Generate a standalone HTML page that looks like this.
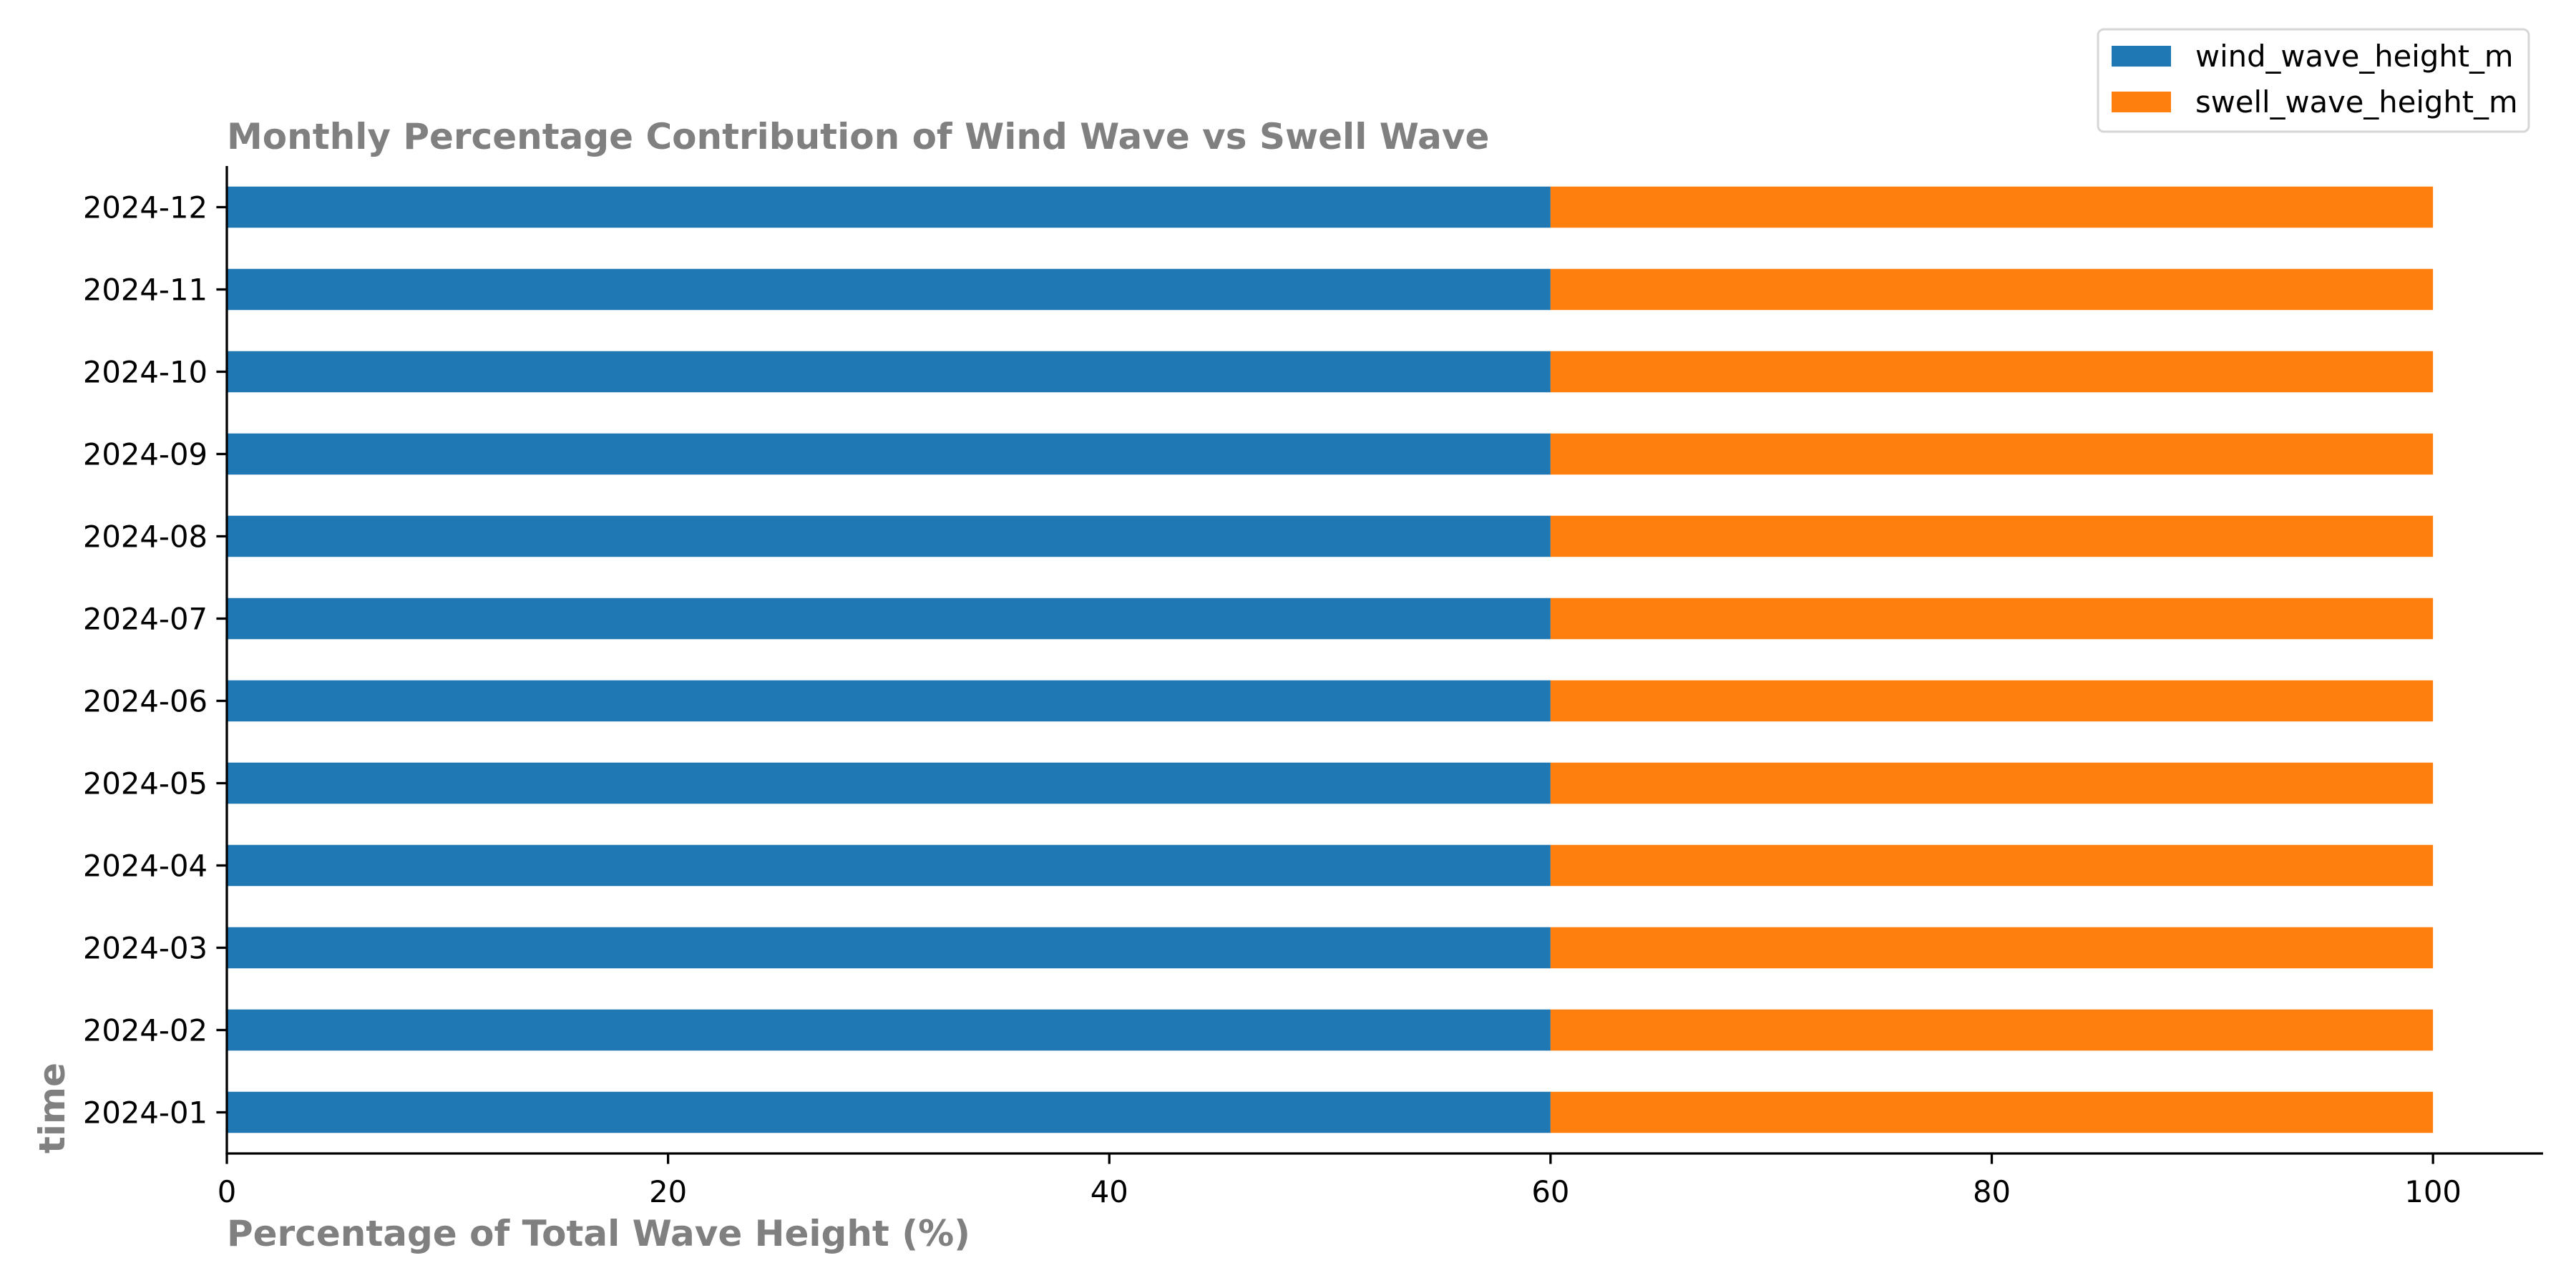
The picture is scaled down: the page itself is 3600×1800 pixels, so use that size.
<!DOCTYPE html>
<html><head><meta charset="utf-8"><style>
html,body{margin:0;padding:0;background:#fff}
svg{display:block;font-family:"DejaVu Sans","Liberation Sans",sans-serif}
</style></head><body>
<svg id="chart" width="3600" height="1800" viewBox="0 0 3600 1800" xmlns="http://www.w3.org/2000/svg">
<rect width="3600" height="1800" fill="#fff"/>
<g id="bars"></g>
<g id="axes"></g>
<text x="317" y="208" font-size="50" font-weight="bold" fill="#808080">Monthly Percentage Contribution of Wind Wave vs Swell Wave</text>
<text x="317" y="1741" font-size="50" font-weight="bold" fill="#808080">Percentage of Total Wave Height (%)</text>
<text transform="translate(90,1612) rotate(-90)" x="0" y="0" font-size="50" font-weight="bold" fill="#808080">time</text>
<g>
<rect x="2932" y="41" width="602" height="143" rx="8" fill="#fff" stroke="#d6d6d6" stroke-width="3"/>
<rect x="2951" y="64" width="83" height="29" fill="#1f77b4"/>
<text x="3068" y="93" font-size="41.7" fill="#000">wind_wave_height_m</text>
<rect x="2951" y="128" width="83" height="29" fill="#ff7f0e"/>
<text x="3068" y="157" font-size="41.7" fill="#000">swell_wave_height_m</text>
</g>
</svg>
<script>
const categories = ["2024-01","2024-02","2024-03","2024-04","2024-05","2024-06","2024-07","2024-08","2024-09","2024-10","2024-11","2024-12"];
const windValues = [60,60,60,60,60,60,60,60,60,60,60,60];
const swellValues = [40,40,40,40,40,40,40,40,40,40,40,40];
const xTicks = [0,20,40,60,80,100];

const NS = "http://www.w3.org/2000/svg";
const L = 317, R = 3554, T = 232, B = 1612;
const xMin = 0, xMax = 104.99;
function xs(v){ return L + (v - xMin) / (xMax - xMin) * (R - L); }
const step = (B - T) / categories.length;
function ys(i){ return B - step * (i + 0.5); }
const bh = step * 0.5;

const bars = document.getElementById('bars');
const axes = document.getElementById('axes');
function mk(tag, attrs, parent){ const e = document.createElementNS(NS, tag); for (const k in attrs) e.setAttribute(k, attrs[k]); parent.appendChild(e); return e; }

categories.forEach((c, i) => {
  const y = ys(i) - bh / 2;
  const w = windValues[i], s = swellValues[i];
  const r1 = mk('rect', {x: xs(0), y: y, width: xs(w) - xs(0), height: bh, fill: '#1f77b4'}, bars);
  
  
  const r2 = mk('rect', {x: xs(w), y: y, width: xs(w + s) - xs(w), height: bh, fill: '#ff7f0e'}, bars);
  
  
  const tk = mk('line', {x1: L - 14.6, x2: L, y1: ys(i), y2: ys(i), stroke: '#000', 'stroke-width': 3.3}, axes);
  
  
  const t = mk('text', {x: L - 27, y: ys(i) + 15, 'text-anchor': 'end', 'font-size': 41.7, fill: '#000'}, axes);
  t.textContent = c;
  
  
});
xTicks.forEach(v => {
  const tk = mk('line', {x1: xs(v), x2: xs(v), y1: B, y2: B + 14.6, stroke: '#000', 'stroke-width': 3.3}, axes);
  
  
  const t = mk('text', {x: xs(v), y: B + 68, 'text-anchor': 'middle', 'font-size': 41.7, fill: '#000'}, axes);
  t.textContent = v;
  
  
});
const ya = mk('line', {x1: L, x2: L, y1: T, y2: B + 1.6, stroke: '#000', 'stroke-width': 3.3}, axes);


const xa = mk('line', {x1: L - 1.6, x2: R, y1: B, y2: B, stroke: '#000', 'stroke-width': 3.3}, axes);


</script>
</body></html>
